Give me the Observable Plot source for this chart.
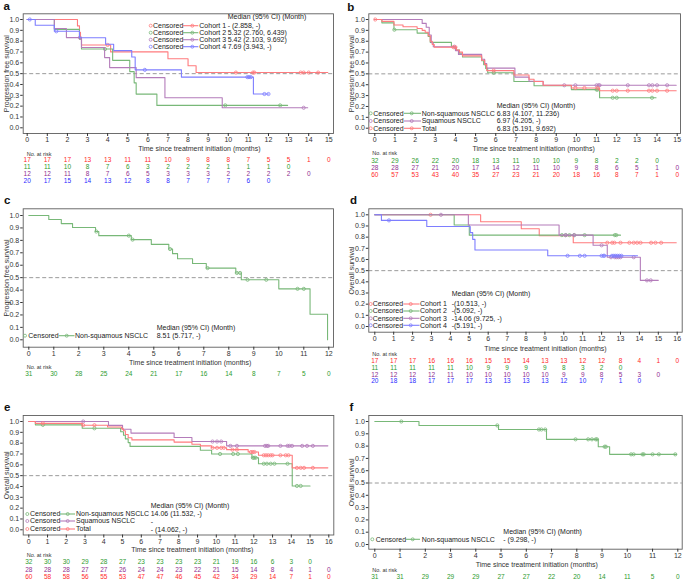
<!DOCTYPE html>
<html><head><meta charset="utf-8">
<script src="https://cdn.jsdelivr.net/npm/d3@7"></script>
<script src="https://cdn.jsdelivr.net/npm/@observablehq/plot@0.6"></script>
<style>
body{margin:0;background:#fff;}
#wrap{position:relative;width:685px;height:583px;overflow:hidden;font-family:"Liberation Sans",Arial,Helvetica,sans-serif;}
</style></head><body><div id="wrap"></div>
<script>
// ---------------- DATA ----------------
const yTicks = [0,0.1,0.2,0.3,0.4,0.5,0.6,0.7,0.8,0.9,1.0];
const xTicks12 = [0,1,2,3,4,5,6,7,8,9,10,11,12];
const xTicks15 = [0,1,2,3,4,5,6,7,8,9,10,11,12,13,14,15];
const xTicks16 = [0,1,2,3,4,5,6,7,8,9,10,11,12,13,14,15,16];
const xTitle = "Time since treatment initiation (months)";
const medianHeader = "Median (95% CI) (Month)";

// Panel a (PFS by cohort)
const aLabels = ["Cohort 1","Cohort 2","Cohort 3","Cohort 4"];
const aMedians = ["- (2.858, -)","5.32 (2.760, 6.439)","5.42 (2.103, 9.692)","7.69 (3.943, -)"];
const aC1Steps = [[0,1],[2.5,0.941],[2.6,0.882],[2.65,0.824],[2.7,0.765],[4.15,0.701],[7.0,0.637],[8.0,0.573],[8.4,0.51]];
const aC1End = 14.95;
const aC1Cens = [4.0,10.38,11.23,11.3,13.6,13.75,14.0,14.47];
const aC2Steps = [[0,1],[1.35,0.909],[2.6,0.818],[2.7,0.727],[4.25,0.623],[5.1,0.519],[5.32,0.415],[5.42,0.311],[6.45,0.207]];
const aC2End = 12.95;
const aC2Cens = [3.87,9.85,12.58];
const aC3Steps = [[0,1],[1.35,0.917],[1.95,0.833],[2.7,0.741],[3.85,0.648],[4.1,0.556],[5.42,0.463],[6.85,0.278],[9.7,0.185]];
const aC3End = 13.95;
const aC3Cens = [2.62,13.75];
const aC4Steps = [[0,1],[0.4,0.947],[1.35,0.891],[2.6,0.832],[3.9,0.772],[4.3,0.713],[5.2,0.654],[5.37,0.535],[7.67,0.468],[11.25,0.312]];
const aC4End = 12.0;
const aC4Cens = [0.13,1.45,5.85,10.95,11.03,11.12,11.8,12.0];
const aRisk1 = [17,17,17,13,13,11,11,10,9,8,8,7,5,5,1,0];
const aRisk2 = [11,11,10,8,7,6,3,2,2,2,1,1,1,0];
const aRisk3 = [12,12,11,8,7,6,5,3,3,3,2,2,2,2,0];
const aRisk4 = [20,17,15,14,13,12,8,8,7,7,7,6,0];

// Panel b (PFS by histology)
const bLabels = ["Non-squamous NSCLC","Squamous NSCLC","Total"];
const bMedians = ["6.83 (4.107, 11.236)","6.97 (4.205, -)","6.83 (5.191, 9.692)"];
const bNsqSteps = [[0,1],[0.35,0.969],[0.95,0.906],[2.1,0.875],[2.65,0.844],[2.75,0.79],[3.8,0.75],[4.0,0.72],[4.2,0.69],[4.35,0.655],[5.3,0.62],[5.4,0.585],[5.5,0.55],[5.6,0.51],[6.9,0.43],[7.9,0.39],[9.75,0.355],[11.15,0.28]];
const bNsqEnd = 13.95;
const bNsqCens = [0.97,5.9,11.0,11.05,11.8,12.0,13.75];
const bSqSteps = [[0,1],[2.35,0.964],[2.55,0.929],[2.7,0.857],[2.8,0.786],[2.9,0.75],[4.0,0.714],[4.15,0.679],[5.3,0.635],[5.45,0.595],[5.55,0.553],[6.95,0.47],[7.65,0.432],[8.35,0.395]];
const bSqEnd = 14.95;
const bSqCens = [3.95,9.4,9.95,11.0,11.1,11.15,12.55,13.6,13.77,14.0,14.5];
const bTotSteps = [[0,1],[0.35,0.983],[0.95,0.95],[1.4,0.933],[2.1,0.917],[2.35,0.9],[2.5,0.883],[2.65,0.85],[2.75,0.8],[2.85,0.77],[2.95,0.745],[4.05,0.72],[4.2,0.7],[4.35,0.665],[5.3,0.625],[5.45,0.585],[5.55,0.53],[6.9,0.49],[7.65,0.45],[7.9,0.43],[8.35,0.395],[9.75,0.37],[11.15,0.345]];
const bTotEnd = 14.95;
const bTotCens = [0.02,3.9,4.0,5.9,9.95,10.4,11.05,11.8,12.0,12.55,13.6,13.77,14.0,14.5];
const bRiskNsq = [32,29,26,22,20,18,13,11,10,10,9,8,2,2,0];
const bRiskSq = [28,28,27,21,20,17,14,12,11,10,9,8,6,5,1,0];
const bRiskTot = [60,57,53,43,40,35,27,23,21,20,18,16,8,7,1,0];

// Panel c (PFS non-squamous)
const cLabels = ["Non-squamous NSCLC"];
const cMedians = ["8.51 (5.717, -)"];
const cNsqSteps = [[0,1],[0.8,0.968],[1.3,0.935],[1.75,0.903],[2.67,0.871],[2.8,0.838],[4.1,0.806],[4.9,0.768],[5.6,0.73],[5.75,0.693],[5.95,0.652],[6.55,0.614],[7.1,0.577],[8.28,0.538],[8.5,0.483],[10.0,0.41],[11.25,0.205],[11.95,0]];
const cNsqEnd = 11.95;
const cNsqCens = [2.7,4.0,4.15,5.65,7.15,8.32,8.45,8.75,9.5,10.75,11.0];
const cRisk = [31,30,28,25,24,21,17,16,14,8,7,5,0];

// Panel d (OS by cohort)
const dLabels = ["Cohort 1","Cohort 2","Cohort 3","Cohort 4"];
const dMedians = ["-(10.513, -)","-(5.092, -)","-14.06 (9.725, -)","-(5.191, -)"];
const dC1Steps = [[0,1],[5.6,0.9375],[7.75,0.875],[8.7,0.8125],[10.5,0.75]];
const dC1End = 15.95;
const dC1Cens = [2.95,12.3,12.56,12.68,13.0,13.47,13.7,13.88,14.06,14.62,14.85,15.15];
const dC2Steps = [[0,1],[4.2,0.909],[5.0,0.818]];
const dC2End = 13.0;
const dC2Cens = [9.9,10.1,10.3,10.55,11.1,12.7,12.78];
const dC3Steps = [[0,1],[4.95,0.909],[9.75,0.818],[11.55,0.727],[12.3,0.62],[14.05,0.413]];
const dC3End = 15.0;
const dC3Cens = [3.5,10.1,10.55,12.0,12.5,12.7,12.8,12.9,13.0,13.7,14.4,14.6];
const dC4Steps = [[0,1],[0.35,0.95],[2.75,0.895],[5.05,0.84],[5.18,0.78],[5.3,0.685],[9.15,0.633]];
const dC4End = 13.9;
const dC4Cens = [0.75,10.2,10.85,11.1,12.0,12.1,12.15,12.55,12.65,12.75,12.85,12.95,13.05];
const dRisk1 = [17,17,17,16,16,16,15,15,14,13,13,12,12,8,4,1,0];
const dRisk2 = [11,11,11,11,11,10,9,9,9,9,8,3,2,0];
const dRisk3 = [12,12,12,12,11,10,10,10,10,10,9,9,8,5,3,0];
const dRisk4 = [20,18,18,17,17,17,13,13,13,13,12,10,7,1,0];

// Panel e (OS by histology)
const eLabels = ["Non-squamous NSCLC","Squamous NSCLC","Total"];
const eMedians = ["14.06 (11.532, -)","-","- (14.062, -)"];
const eNsqSteps = [[0,1],[0.35,0.969],[2.85,0.937],[4.9,0.905],[5.05,0.873],[5.15,0.84],[5.3,0.805],[5.4,0.77],[9.15,0.735],[9.75,0.70],[11.9,0.665],[12.25,0.61],[14.05,0.405]];
const eNsqEnd = 15.0;
const eNsqCens = [0.75,3.5,10.2,10.9,11.15,11.95,12.02,12.1,12.53,12.7,12.9,13.1,13.8,14.3,14.5];
const eSqSteps = [[0,1],[4.25,0.964],[5.0,0.929],[5.45,0.893],[7.75,0.852],[8.7,0.815],[10.55,0.775]];
const eSqEnd = 15.95;
const eSqCens = [2.9,9.8,10.04,10.26,10.75,11.1,12.6,12.7,12.77,13.42,13.8,13.9,14.04,14.58,14.84,15.15];
const eTotSteps = [[0,1],[0.35,0.983],[2.85,0.966],[4.2,0.949],[4.95,0.932],[5.05,0.915],[5.15,0.88],[5.3,0.85],[5.5,0.83],[7.75,0.81],[8.7,0.79],[9.15,0.775],[9.75,0.757],[10.55,0.74],[11.7,0.718],[12.25,0.688],[14.05,0.572]];
const eTotEnd = 15.95;
const eTotCens = [0.75,2.9,3.5,9.8,10.04,10.26,10.4,10.86,11.1,11.85,11.95,12.04,12.53,12.65,12.77,12.9,13.0,13.42,13.7,13.85,14.3,14.5,14.68,15.15];
const eRiskNsq = [32,30,30,29,28,27,23,23,23,23,21,19,16,6,3,0];
const eRiskSq = [28,28,28,27,27,26,24,24,23,22,21,15,14,8,4,1,0];
const eRiskTot = [60,58,58,56,55,53,47,47,46,45,42,34,29,14,7,1,0];

// Panel f (OS non-squamous)
const fLabels = ["Non-squamous NSCLC"];
const fMedians = [" - (9.298, -)"];
const fNsqSteps = [[0,1],[1.75,0.968],[4.9,0.935],[6.8,0.855],[8.85,0.795],[9.3,0.733]];
const fNsqEnd = 11.95;
const fNsqCens = [1.05,4.85,6.5,6.6,6.75,7.95,8.45,8.6,8.75,8.8,9.1,9.15,10.15,10.25,10.6,10.65,11.0,11.25,11.9];
const fRisk = [31,31,29,29,29,27,27,22,20,14,11,5,0];

// ---------------- STYLE ----------------
const FONT = '"Liberation Sans", Arial, Helvetica, sans-serif';
const RED = "#ff7b7e", GREEN = "#78b878", PURPLE = "#b47cba", BLUE = "#7e7eff";
const RED_T = "#ff2a2a", GREEN_T = "#2e9b2e", PURPLE_T = "#902f90", BLUE_T = "#2a2aff";

function survAt(steps, t) {
  let s = 1;
  for (const [st, sv] of steps) if (st <= t) s = sv;
  return s;
}

const wrap = document.getElementById("wrap");

function panel(p) {
  const marks = [
    Plot.ruleY([0.5], {stroke: "#8f8f8f", strokeDasharray: "4,2.5", strokeWidth: 0.9})
  ];
  for (const s of p.series) {
    const pts = s.steps.concat([[s.end, s.steps[s.steps.length - 1][1]]]);
    marks.push(Plot.line(pts, {x: d => d[0], y: d => d[1], curve: "step-after", stroke: s.color, strokeWidth: 1.1}));
    marks.push(Plot.dot(s.censors.map(t => [t, survAt(s.steps, t)]),
      {x: d => d[0], y: d => d[1], r: 1.6, stroke: s.color, strokeWidth: 0.8, fill: "none"}));
  }
  marks.push(Plot.frame({stroke: "#5e5e5e", strokeWidth: 0.9}));
  marks.push(Plot.axisY({ticks: yTicks, tickFormat: d => d.toFixed(1), tickSize: 2.5, tickPadding: 1.5, fontSize: 7, label: null}));
  marks.push(Plot.axisX({ticks: p.xTicks, tickFormat: d => String(d), tickSize: 3, tickPadding: 1, fontSize: 7, label: null}));
  marks.push(Plot.text([p.yLabel], {frameAnchor: "left", textAnchor: "middle", dx: -16.7, rotate: -90, fontSize: 7, fill: "#333"}));
  marks.push(Plot.text([xTitle], {frameAnchor: "bottom", dx: p.titleDx, dy: p.titleDy, fontSize: 7, fill: "#333"}));
  marks.push(Plot.text(["No. at risk"], {frameAnchor: "bottom-left", dx: 3.5, dy: p.riskTitleDy, textAnchor: "start", fontSize: 5.5, fill: "#333"}));
  p.risk.forEach(r => {
    marks.push(Plot.text(r.values.map((v, t) => ({t, v})),
      {x: "t", text: d => String(d.v), frameAnchor: "bottom", dy: r.dy, fill: r.color, fontSize: 6.5}));
  });
  const svg = Plot.plot({
    width: p.width, height: p.height,
    marginLeft: p.m[0], marginRight: p.m[1], marginTop: p.m[2], marginBottom: p.m[3],
    x: {domain: [0, p.xMax], insetLeft: p.i[0], insetRight: p.i[1]},
    y: {domain: [0, 1], insetTop: p.i[2], insetBottom: p.i[3]},
    style: {fontFamily: FONT, color: "#333", background: "none", overflow: "visible"},
    marks
  });
  svg.style.position = "absolute";
  svg.style.left = p.left + "px";
  svg.style.top = p.top + "px";
  wrap.appendChild(svg);
}

panel({left: 0, top: 0, width: 340, height: 190, m: [22.7, 7, 13.3, 57], i: [4, 4.7, 5.7, 5.7], xMax: 15, xTicks: xTicks15,
  yLabel: "Progression free survival", titleDx: 21, titleDy: 17, riskTitleDy: 22,
  series: [
    {steps: aC1Steps, end: aC1End, censors: aC1Cens, color: RED},
    {steps: aC2Steps, end: aC2End, censors: aC2Cens, color: GREEN},
    {steps: aC3Steps, end: aC3End, censors: aC3Cens, color: PURPLE},
    {steps: aC4Steps, end: aC4End, censors: aC4Cens, color: BLUE}],
  risk: [{values: aRisk1, color: RED_T, dy: 28.7}, {values: aRisk2, color: GREEN_T, dy: 35.3},
         {values: aRisk3, color: PURPLE_T, dy: 42.3}, {values: aRisk4, color: BLUE_T, dy: 49.5}]
});

panel({left: 340, top: 0, width: 345, height: 190, m: [28.3, 5, 13.3, 57], i: [6, 3.3, 5.7, 5.3], xMax: 15, xTicks: xTicks15,
  yLabel: "Progression free survival", titleDx: 9, titleDy: 17, riskTitleDy: 21,
  series: [
    {steps: bNsqSteps, end: bNsqEnd, censors: bNsqCens, color: GREEN},
    {steps: bSqSteps, end: bSqEnd, censors: bSqCens, color: PURPLE},
    {steps: bTotSteps, end: bTotEnd, censors: bTotCens, color: RED}],
  risk: [{values: bRiskNsq, color: GREEN_T, dy: 29.7}, {values: bRiskSq, color: PURPLE_T, dy: 36.3},
         {values: bRiskTot, color: RED_T, dy: 43}]
});

panel({left: 0, top: 190, width: 340, height: 195, m: [22.7, 7, 18.3, 38.3], i: [5.6, 4.7, 6.7, 7.4], xMax: 12, xTicks: xTicks12,
  yLabel: "Progression free survival", titleDx: 11.8, titleDy: 17.3, riskTitleDy: 21.6,
  series: [{steps: cNsqSteps, end: cNsqEnd, censors: cNsqCens, color: GREEN}],
  risk: [{values: cRisk, color: GREEN_T, dy: 29}]
});

panel({left: 340, top: 190, width: 345, height: 195, m: [28.3, 3.3, 18.3, 53.3], i: [6, 5, 6, 5.7], xMax: 16, xTicks: xTicks16,
  yLabel: "Overall survival", titleDx: 20, titleDy: 18.3, riskTitleDy: 23.3,
  series: [
    {steps: dC1Steps, end: dC1End, censors: dC1Cens, color: RED},
    {steps: dC2Steps, end: dC2End, censors: dC2Cens, color: GREEN},
    {steps: dC3Steps, end: dC3End, censors: dC3Cens, color: PURPLE},
    {steps: dC4Steps, end: dC4End, censors: dC4Cens, color: BLUE}],
  risk: [{values: dRisk1, color: RED_T, dy: 30.6}, {values: dRisk2, color: GREEN_T, dy: 37.6},
         {values: dRisk3, color: PURPLE_T, dy: 44.3}, {values: dRisk4, color: BLUE_T, dy: 51}]
});

panel({left: 0, top: 385, width: 340, height: 198, m: [22.7, 6.7, 30, 48.5], i: [5.6, 5, 6, 5.2], xMax: 16, xTicks: xTicks16,
  yLabel: "Overall survival", titleDx: 13.8, titleDy: 17.2, riskTitleDy: 22.2,
  series: [
    {steps: eNsqSteps, end: eNsqEnd, censors: eNsqCens, color: GREEN},
    {steps: eSqSteps, end: eSqEnd, censors: eSqCens, color: PURPLE},
    {steps: eTotSteps, end: eTotEnd, censors: eTotCens, color: RED}],
  risk: [{values: eRiskNsq, color: GREEN_T, dy: 28.8}, {values: eRiskSq, color: PURPLE_T, dy: 36.5},
         {values: eRiskTot, color: RED_T, dy: 43.8}]
});

panel({left: 340, top: 385, width: 345, height: 198, m: [28.3, 3.3, 30, 34.3], i: [6, 4.4, 6, 4.7], xMax: 12, xTicks: xTicks12,
  yLabel: "Overall survival", titleDx: 11.3, titleDy: 18, riskTitleDy: 23,
  series: [{steps: fNsqSteps, end: fNsqEnd, censors: fNsqCens, color: GREEN}],
  risk: [{values: fRisk, color: GREEN_T, dy: 29.6}]
});

// ---------------- OVERLAY: panel letters and legends ----------------
const ov = d3.select(wrap).append("svg")
  .attr("width", 685).attr("height", 583)
  .style("position", "absolute").style("left", "0px").style("top", "0px")
  .style("font-family", FONT);

[["a", 3.5, 10.4], ["b", 347.3, 10.6], ["c", 4, 204], ["d", 350, 204], ["e", 4, 411], ["f", 349.5, 411]]
  .forEach(([t, x, y]) => ov.append("text").attr("x", x).attr("y", y).attr("font-size", 11.5)
    .attr("font-weight", "bold").attr("fill", "#111").text(t));

function legend(L) {
  const g = ov.append("g").attr("font-size", 7).attr("fill", "#222");
  g.append("text").attr("x", L.hx).attr("y", L.hy).attr("dy", "0.35em").text(medianHeader);
  L.labels.forEach((lab, k) => {
    const y = L.rows[k], c = L.colors[k];
    g.append("circle").attr("cx", L.mx).attr("cy", y).attr("r", 1.5).attr("fill", "none").attr("stroke", c).attr("stroke-width", 0.8);
    g.append("text").attr("x", L.cx).attr("y", y).attr("dy", "0.35em").text("Censored");
    g.append("line").attr("x1", L.l1).attr("x2", L.l2).attr("y1", y).attr("y2", y).attr("stroke", c).attr("stroke-width", 1.1);
    g.append("circle").attr("cx", L.lm).attr("cy", y).attr("r", 1.5).attr("fill", "none").attr("stroke", c).attr("stroke-width", 0.8);
    g.append("text").attr("x", L.labX).attr("y", y).attr("dy", "0.35em").text(lab);
    g.append("text").attr("x", L.valX).attr("y", L.vrows ? L.vrows[k] : y).attr("dy", "0.35em").text(L.values[k]);
  });
}

legend({hx: 227.7, hy: 16.7, rows: [25.7, 32.7, 39.7, 46.7], mx: 150.7, cx: 153, l1: 182.7, l2: 198.3, lm: 192.3, labX: 199.3, valX: 227.7,
  labels: aLabels, values: aMedians, colors: [RED, GREEN, PURPLE, BLUE]});
legend({hx: 496.7, hy: 106, rows: [113.3, 121, 128.3], mx: 370.7, cx: 373.3, l1: 404, l2: 421, lm: 411.7, labX: 421.7, valX: 496.7,
  labels: bLabels, values: bMedians, colors: [GREEN, PURPLE, RED]});
legend({hx: 156.7, hy: 327.7, rows: [335.7], vrows: [336], mx: 25, cx: 28.3, l1: 58.7, l2: 74.5, lm: 66.7, labX: 75, valX: 156.7,
  labels: cLabels, values: cMedians, colors: [GREEN]});
legend({hx: 451.7, hy: 294, rows: [304, 311, 318.3, 325.3], mx: 370.7, cx: 372.7, l1: 403.3, l2: 419.5, lm: 410.7, labX: 420, valX: 451.7,
  labels: dLabels, values: dMedians, colors: [RED, GREEN, PURPLE, BLUE]});
legend({hx: 150.7, hy: 506, rows: [514, 521, 529], vrows: [513.3, 521.7, 530], mx: 27.3, cx: 30, l1: 59.3, l2: 75, lm: 67.7, labX: 76, valX: 150.7,
  labels: eLabels, values: eMedians, colors: [GREEN, PURPLE, RED]});
legend({hx: 503.3, hy: 531.7, rows: [539.3], mx: 372.3, cx: 375.7, l1: 405.7, l2: 420, lm: 412.7, labX: 421.7, valX: 503.3,
  labels: fLabels, values: fMedians, colors: [GREEN]});
</script>
</body></html>
